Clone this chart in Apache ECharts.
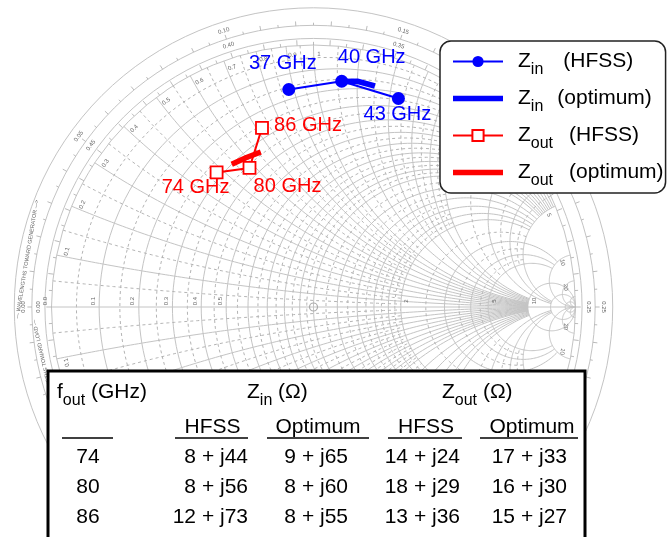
<!DOCTYPE html>
<html>
<head>
<meta charset="utf-8">
<title>Z_in / Z_out on the Smith chart</title>
<script src="https://cdn.jsdelivr.net/npm/echarts@6/dist/echarts.min.js"></script>
<style>
html, body { margin: 0; padding: 0; background: #fff; }
#chart { width: 670px; height: 537px; }
</style>
</head>
<body>
<div id="chart"></div>
<script>
// ---------- impedances (ohms) ----------
const foutGHz = [74, 80, 86];
const finGHz = [37, 40, 43];
const zinHfssR = [8, 8, 12];
const zinHfssX = [44, 56, 73];
const zinOptR = [9, 8, 8];
const zinOptX = [65, 60, 55];
const zoutHfssR = [14, 18, 13];
const zoutHfssX = [24, 29, 36];
const zoutOptR = [17, 16, 15];
const zoutOptX = [33, 30, 27];
const Z0 = 50;

// ---------- Smith chart grid values (normalised) ----------
const gridMajor = [0.1, 0.2, 0.3, 0.4, 0.5, 0.6, 0.7, 0.8, 0.9, 1.0, 1.2, 1.4, 1.6, 1.8, 2.0, 3, 4, 5, 10, 20, 50];
const gridMinor = [0.05, 0.15, 0.25, 0.35, 0.45, 0.55, 0.65, 0.75, 0.85, 0.95, 1.1, 1.3, 1.5, 1.7, 1.9, 2.5, 3.5, 4.5];
const realAxisLabels = [0, 0.1, 0.2, 0.3, 0.4, 0.5, 2, 5, 10];
const rimLabels = [0.1, 0.2, 0.3, 0.4, 0.5, 0.6, 0.7, 0.8, 0.9, 1.0, 2, 5, 10, 20];

const FONT = '"Liberation Sans", Arial, Helvetica, sans-serif';
const BLUE = '#0000ff';
const RED = '#ff0000';
const GRID_SOLID = '#c4c4c4';
const GRID_DASH = '#b4b4b4';
const SCALE_TXT = '#666';

// reflection coefficient of a normalised impedance r + jx
function gammaN(r, x) {
  const d = (r + 1) * (r + 1) + x * x;
  return [(r * r + x * x - 1) / d, 2 * x / d];
}
const toGamma = (R, X) => gammaN(R / Z0, X / Z0);

// how far each constant-r circle / constant-x arc is drawn
function majorLimit(v) { return v <= 2 ? 5 : v <= 5 ? 10 : Infinity; }
function majorArcLimit(v) { return v <= 2 ? 10 : v <= 5 ? 20 : Infinity; }
function minorLimit(v) { return v < 2 ? 2 : 5; }

function resistancePts(r, xmax) {
  const cx = r / (1 + r), rad = 1 / (1 + r);
  let p1 = 0;
  if (isFinite(xmax)) { const g = gammaN(r, xmax); p1 = Math.atan2(g[1], g[0] - cx); }
  const pts = [], n = 160;
  for (let i = 0; i <= n; i++) {
    const p = p1 + (2 * Math.PI - 2 * p1) * i / n;
    pts.push([cx + rad * Math.cos(p), rad * Math.sin(p)]);
  }
  return pts;
}
function reactancePts(x, rmax) {
  const cy = 1 / x, rad = Math.abs(1 / x);
  const g0 = gammaN(0, x), g1 = isFinite(rmax) ? gammaN(rmax, x) : [1, 0];
  const a0 = Math.atan2(g0[1] - cy, g0[0] - 1);
  const a1 = Math.atan2(g1[1] - cy, g1[0] - 1);
  let d = a1 - a0;
  while (d > Math.PI) d -= 2 * Math.PI;
  while (d < -Math.PI) d += 2 * Math.PI;
  const pts = [], n = 120;
  for (let i = 0; i <= n; i++) {
    const a = a0 + d * i / n;
    pts.push([1 + rad * Math.cos(a), cy + rad * Math.sin(a)]);
  }
  return pts;
}

// all grid curves
const gridCurves = [];
gridMajor.forEach(v => {
  gridCurves.push({ pts: resistancePts(v, majorLimit(v)), dashed: false });
  gridCurves.push({ pts: reactancePts(v, majorArcLimit(v)), dashed: false });
  gridCurves.push({ pts: reactancePts(-v, majorArcLimit(v)), dashed: false });
});
gridMinor.forEach(v => {
  gridCurves.push({ pts: resistancePts(v, minorLimit(v)), dashed: true });
  gridCurves.push({ pts: reactancePts(v, minorLimit(v)), dashed: true });
  gridCurves.push({ pts: reactancePts(-v, minorLimit(v)), dashed: true });
});
gridCurves.push({ pts: [[-1, 0], [1, 0]], dashed: false });

const zinHfss = zinHfssR.map((r, i) => toGamma(r, zinHfssX[i]));
const zinOpt = zinOptR.map((r, i) => toGamma(r, zinOptX[i]));
const zoutHfss = zoutHfssR.map((r, i) => toGamma(r, zoutHfssX[i]));
const zoutOpt = zoutOptR.map((r, i) => toGamma(r, zoutOptX[i]));

// label placement around the markers (pixels)
const zinLabelOffsets = [[-6, -26], [30, -24], [-1, 16]];
const zoutLabelOffsets = [[-21, 15], [38, 19], [46, -2]];

function fmtLabel(v) { return v < 1 ? v.toFixed(1) : String(v); }

// scales, rings and small lettering of the chart
function renderScale(params, api) {
  const c = api.coord([0, 0]);
  const R = api.size([1, 1])[0];
  const kids = [];
  const ring = (k, w) => kids.push({ type: 'circle', shape: { cx: c[0], cy: c[1], r: R * k }, style: { fill: null, stroke: GRID_SOLID, lineWidth: w || 1 } });
  ring(1.0); ring(1.025); ring(1.075); ring(1.142);
  const polar = (k, th) => [c[0] + R * k * Math.cos(th), c[1] - R * k * Math.sin(th)];
  for (let i = 0; i < 100; i++) {
    const th = Math.PI - i * 0.005 * 4 * Math.PI;
    const long = i % 2 === 0;
    const a = polar(1.0, th), b = polar(long ? 1.02 : 1.012, th);
    kids.push({ type: 'line', shape: { x1: a[0], y1: a[1], x2: b[0], y2: b[1] }, style: { stroke: '#aaa', lineWidth: 0.8 } });
    const p = polar(1.075, th), q = polar(long ? 1.092 : 1.085, th);
    kids.push({ type: 'line', shape: { x1: p[0], y1: p[1], x2: q[0], y2: q[1] }, style: { stroke: '#aaa', lineWidth: 0.8 } });
  }
  for (let k = 0; k < 10; k++) {
    const lg = k * 0.05;
    const th = Math.PI - lg * 4 * Math.PI;
    const rot = th - Math.PI / 2;
    const po = polar(1.108, th), pi = polar(1.05, th);
    kids.push({ type: 'text', x: po[0], y: po[1], rotation: rot, style: { text: lg.toFixed(2), fontSize: 6, fontFamily: FONT, fill: SCALE_TXT, align: 'center', verticalAlign: 'middle' } });
    kids.push({ type: 'text', x: pi[0], y: pi[1], rotation: rot, style: { text: ((0.5 - lg) % 0.5).toFixed(2), fontSize: 6, fontFamily: FONT, fill: SCALE_TXT, align: 'center', verticalAlign: 'middle' } });
  }
  const g1 = polar(1.108, 170.5 * Math.PI / 180);
  kids.push({ type: 'text', x: g1[0], y: g1[1], rotation: 80.5 * Math.PI / 180, style: { text: '— WAVELENGTHS TOWARD GENERATOR —>', fontSize: 5.5, fontFamily: FONT, fill: SCALE_TXT, align: 'center', verticalAlign: 'middle' } });
  const g2 = polar(1.05, 193 * Math.PI / 180);
  kids.push({ type: 'text', x: g2[0], y: g2[1], rotation: 103 * Math.PI / 180, style: { text: '<— WAVELENGTHS TOWARD LOAD —', fontSize: 5.5, fontFamily: FONT, fill: SCALE_TXT, align: 'center', verticalAlign: 'middle' } });
  realAxisLabels.forEach(r => {
    const g = api.coord([(r - 1) / (r + 1), 0]);
    const dx = r < 1 ? -6 : 6;
    kids.push({ type: 'text', x: g[0] + dx, y: g[1] - 6, rotation: Math.PI / 2, style: { text: fmtLabel(r), fontSize: 6, fontFamily: FONT, fill: SCALE_TXT, align: 'center', verticalAlign: 'middle' } });
  });
  rimLabels.forEach(x => {
    [1, -1].forEach(s => {
      const th = s * (Math.PI - 2 * Math.atan(x)) - s * 0.022;
      const p = polar(0.965, th);
      kids.push({ type: 'text', x: p[0], y: p[1], rotation: th - Math.PI / 2, style: { text: fmtLabel(x), fontSize: 6, fontFamily: FONT, fill: SCALE_TXT, align: 'center', verticalAlign: 'middle' } });
    });
  });
  kids.push({ type: 'circle', shape: { cx: c[0], cy: c[1], r: 4 }, style: { fill: null, stroke: '#aaa', lineWidth: 1.2 } });
  return { type: 'group', children: kids, silent: true };
}

// ---------- table below the chart ----------
const tableCols = [
  { x: 88, align: 'center' },
  { x: 248, align: 'right' },
  { x: 348, align: 'right' },
  { x: 460, align: 'right' },
  { x: 567, align: 'right' }
];
const rowMiddles = [457.5, 487.5, 517.5];
const zfmt = (r, x) => r + ' + j' + x;
const tableRows = foutGHz.map((f, i) => [
  String(f),
  zfmt(zinHfssR[i], zinHfssX[i]),
  zfmt(zinOptR[i], zinOptX[i]),
  zfmt(zoutHfssR[i], zoutHfssX[i]),
  zfmt(zoutOptR[i], zoutOptX[i])
]);
const richMain = { fontSize: 21, fontFamily: FONT, fill: '#000', color: '#000' };
const richSub = { fontSize: 16, fontFamily: FONT, fill: '#000', color: '#000', padding: [17, 0, 0, 0] };

const tableEls = [
  { type: 'rect', shape: { x: 48, y: 371, width: 537, height: 200 }, style: { fill: '#fff', stroke: '#000', lineWidth: 3 }, z: 100 }
];
function headText(x, main, sub, tail) {
  tableEls.push({
    type: 'text', x: x, y: 392.5, z: 101,
    style: { text: '{m|' + main + '}{s|' + sub + '}{m|' + tail + '}', rich: { m: richMain, s: richSub }, align: 'left', verticalAlign: 'middle' }
  });
}
headText(57, 'f', 'out', ' (GHz)');
headText(247, 'Z', 'in', ' (\u03A9)');
headText(442, 'Z', 'out', ' (\u03A9)');
[['HFSS', 212.5], ['Optimum', 318], ['HFSS', 426], ['Optimum', 532]].forEach(h => {
  tableEls.push({ type: 'text', x: h[1], y: 427.5, z: 101, style: { text: h[0], fontSize: 21, fontFamily: FONT, fill: '#000', align: 'center', verticalAlign: 'middle' } });
});
[[62, 113], [175, 248], [267, 369], [388, 462], [480, 578]].forEach(u => {
  tableEls.push({ type: 'line', z: 101, shape: { x1: u[0], y1: 438, x2: u[1], y2: 438 }, style: { stroke: '#000', lineWidth: 1.5 } });
});
tableRows.forEach((row, i) => {
  row.forEach((txt, j) => {
    tableEls.push({ type: 'text', x: tableCols[j].x, y: rowMiddles[i], z: 101, style: { text: txt, fontSize: 21, fontFamily: FONT, fill: '#000', align: tableCols[j].align, verticalAlign: 'middle' } });
  });
});

// ---------- legend text ----------
const legendRich = {
  z: { fontSize: 21, fontFamily: FONT, color: '#000', padding: [0, 0, 0, 10] },
  s: { fontSize: 16, fontFamily: FONT, color: '#000', padding: [17, 0, 0, 0] },
  g20: { fontSize: 21, fontFamily: FONT, color: '#000', padding: [0, 0, 0, 20] },
  g14: { fontSize: 21, fontFamily: FONT, color: '#000', padding: [0, 0, 0, 14] },
  g16: { fontSize: 21, fontFamily: FONT, color: '#000', padding: [0, 0, 0, 16] }
};
const legendText = {
  'Zin (HFSS)': '{z|Z}{s|in}{g20|(HFSS)}',
  'Zin (optimum)': '{z|Z}{s|in}{g14|(optimum)}',
  'Zout (HFSS)': '{z|Z}{s|out}{g16|(HFSS)}',
  'Zout (optimum)': '{z|Z}{s|out}{g16|(optimum)}'
};

const labelBase = { show: true, position: 'inside', fontSize: 20, fontFamily: FONT };

const chart = echarts.init(document.getElementById('chart'));
chart.setOption({
  animation: false,
  backgroundColor: '#fff',
  grid: { left: 51.5, top: 45, width: 524, height: 524, outerBoundsMode: 'none', containLabel: false },
  xAxis: { type: 'value', min: -1, max: 1, show: false },
  yAxis: { type: 'value', min: -1, max: 1, show: false },
  legend: {
    orient: 'vertical', left: 440, top: 41,
    padding: [10, 2, 4, 12],
    itemWidth: 50, itemHeight: 14, itemGap: 10,
    backgroundColor: '#fff', borderColor: '#222', borderWidth: 1.5, borderRadius: 11,
    z: 50,
    data: [
      { name: 'Zin (HFSS)' },
      { name: 'Zin (optimum)', icon: 'path://M0,0H50V5.5H0Z' },
      { name: 'Zout (HFSS)' },
      { name: 'Zout (optimum)', icon: 'path://M0,0H50V5.5H0Z' }
    ],
    formatter: name => legendText[name],
    textStyle: { fontSize: 21, fontFamily: FONT, color: '#000', rich: legendRich }
  },
  graphic: tableEls,
  series: [
    {
      name: 'grid', type: 'custom', silent: true, clip: false, z: 1,
      data: gridCurves.map((c, i) => [i, 0]),
      renderItem: (params, api) => {
        const cur = gridCurves[params.dataIndex];
        return {
          type: 'polyline',
          shape: { points: cur.pts.map(p => api.coord(p)) },
          style: { fill: null, stroke: cur.dashed ? GRID_DASH : GRID_SOLID, lineWidth: 1, lineDash: cur.dashed ? [3, 3] : null }
        };
      }
    },
    {
      name: 'scale', type: 'custom', silent: true, clip: false, z: 1,
      data: [[0, 0]],
      renderItem: renderScale
    },
    {
      name: 'Zin (optimum)', type: 'line', data: zinOpt, symbol: 'none', z: 5,
      color: BLUE, lineStyle: { color: BLUE, width: 5.5 }, itemStyle: { color: BLUE }
    },
    {
      name: 'Zin (HFSS)', type: 'line', z: 6,
      data: zinHfss.map((g, i) => ({ value: g, label: Object.assign({}, labelBase, { color: BLUE, formatter: finGHz[i] + ' GHz', offset: zinLabelOffsets[i] }) })),
      symbol: 'circle', symbolSize: 13, color: BLUE,
      lineStyle: { color: BLUE, width: 2 }, itemStyle: { color: BLUE }
    },
    {
      name: 'Zout (HFSS)', type: 'line', z: 5,
      data: zoutHfss.map((g, i) => ({ value: g, label: Object.assign({}, labelBase, { color: RED, formatter: foutGHz[i] + ' GHz', offset: zoutLabelOffsets[i] }) })),
      symbol: 'rect', symbolSize: 12, color: RED,
      lineStyle: { color: RED, width: 2 }, itemStyle: { color: '#fff', borderColor: RED, borderWidth: 1.8 }
    },
    {
      name: 'Zout (optimum)', type: 'line', data: zoutOpt, symbol: 'none', z: 6,
      color: RED, lineStyle: { color: RED, width: 5.5 }, itemStyle: { color: RED }
    }
  ]
});
</script>
</body>
</html>
